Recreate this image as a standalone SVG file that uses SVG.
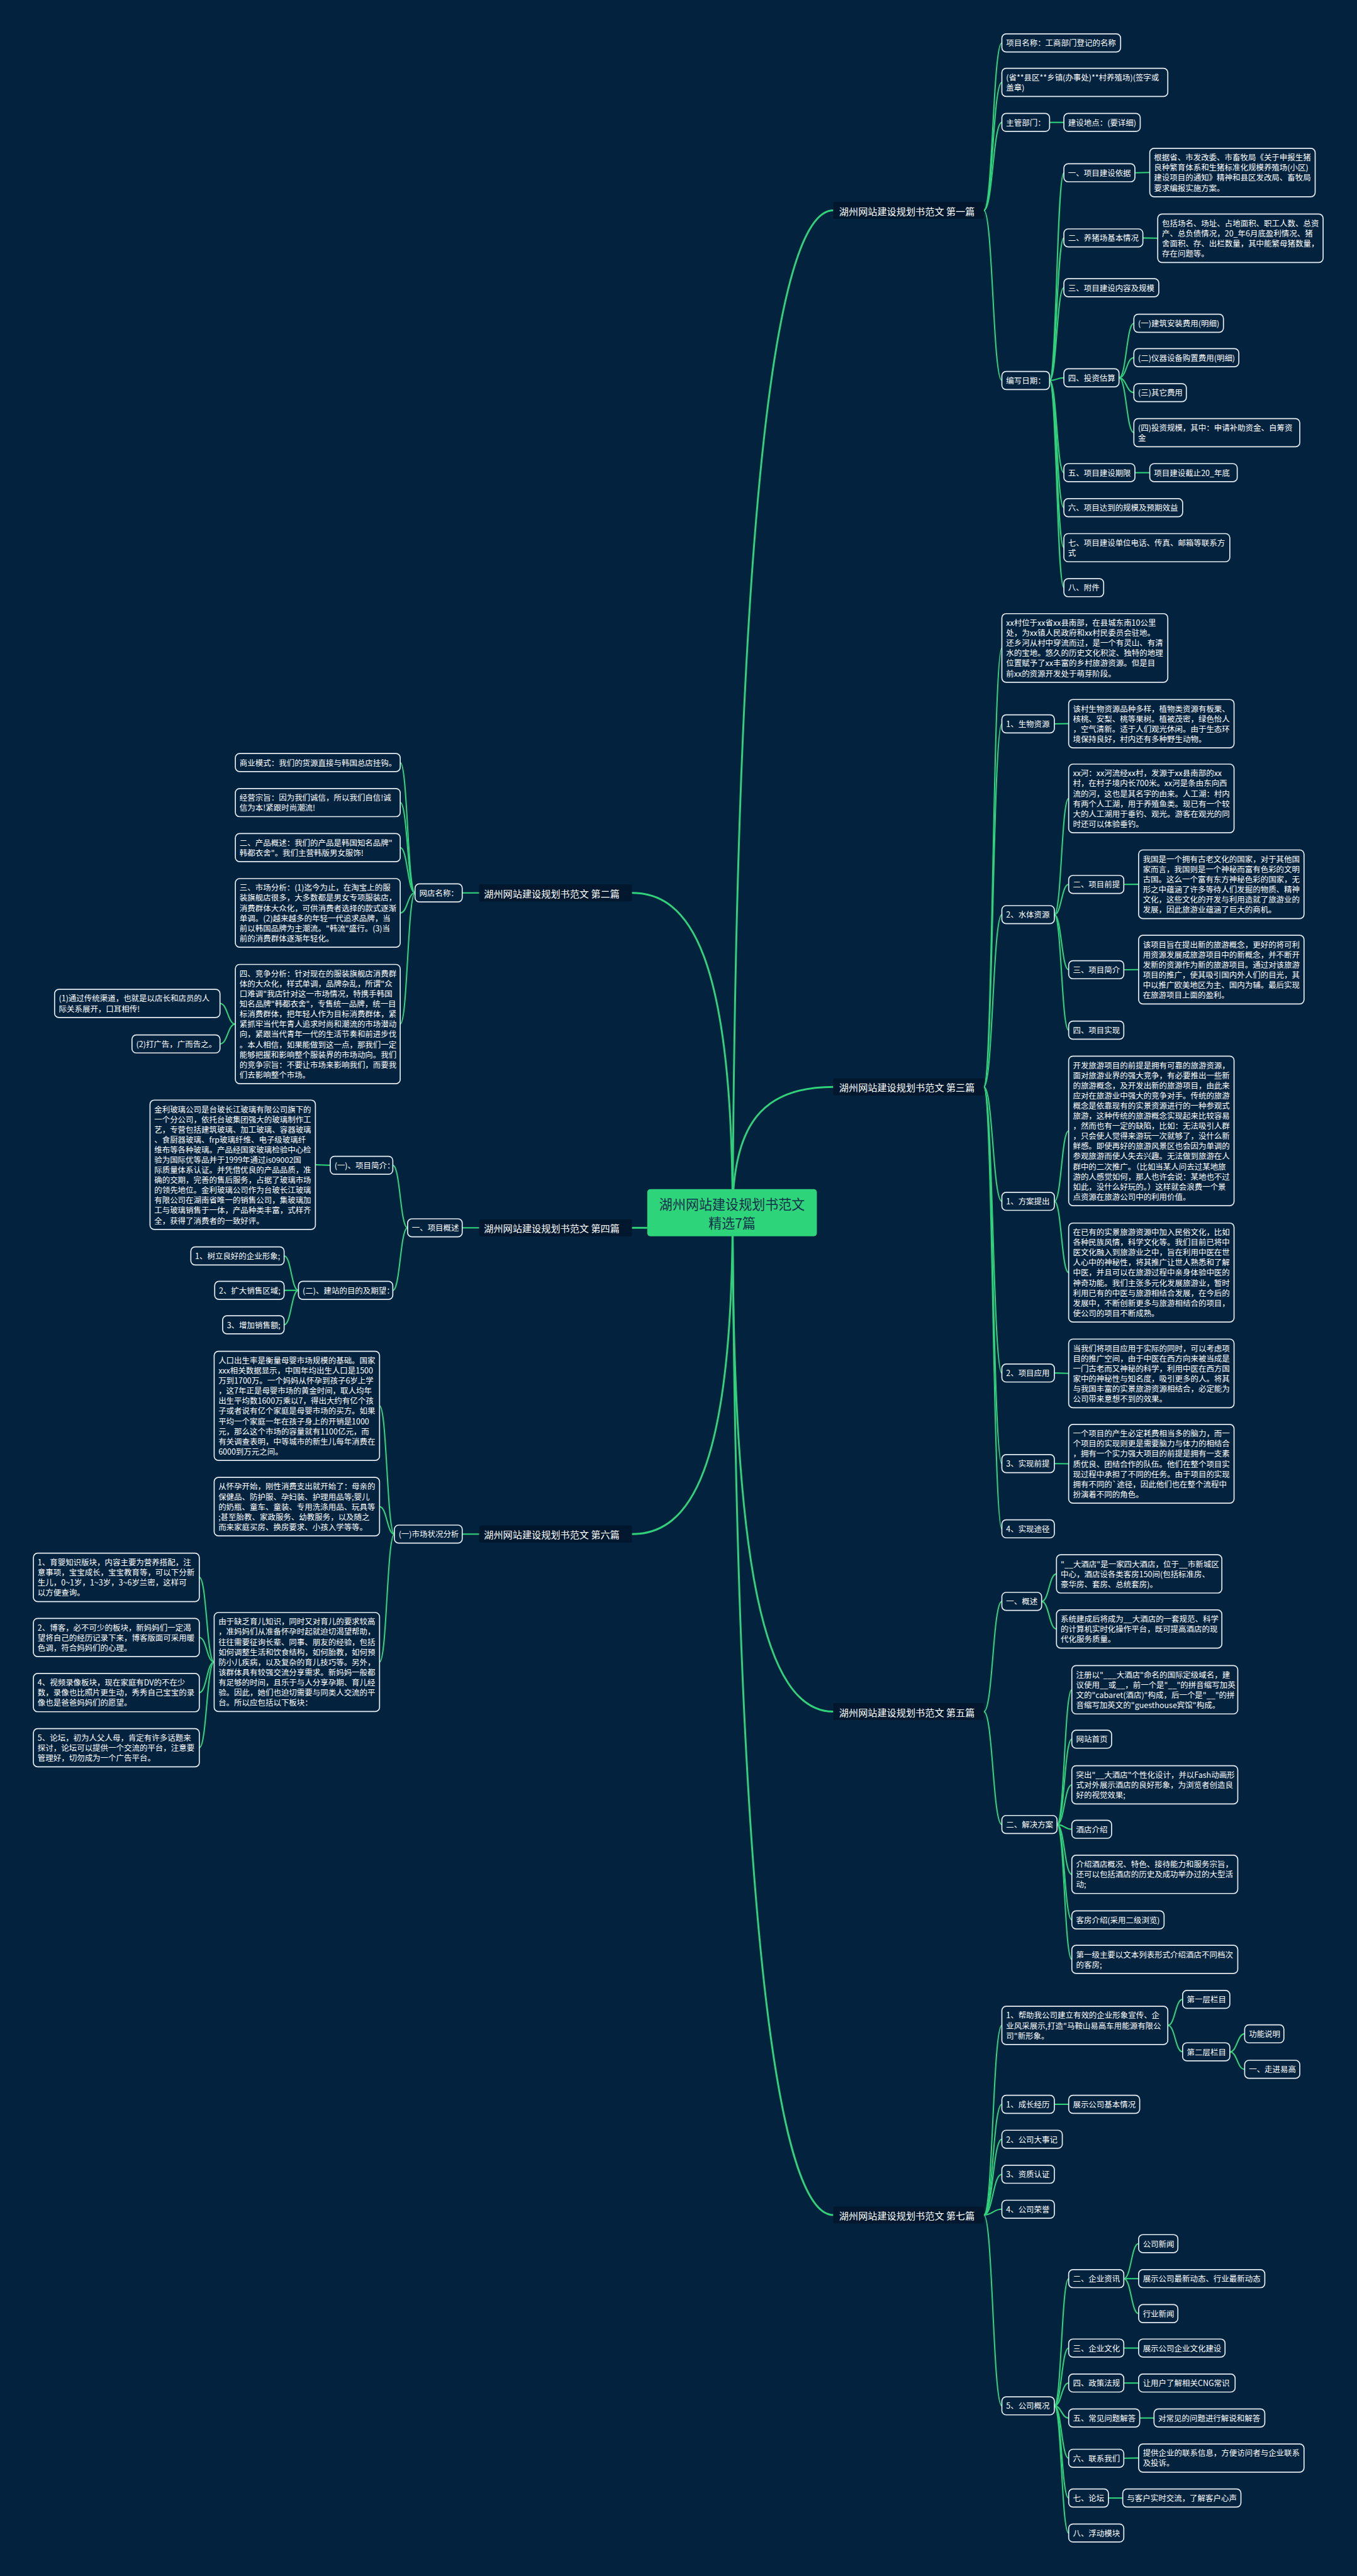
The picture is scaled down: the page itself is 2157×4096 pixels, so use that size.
<svg xmlns="http://www.w3.org/2000/svg" width="2157" height="4096" viewBox="0 0 2157 4096">
<style>
.b{fill:#02223e;stroke:#e6edf2;stroke-width:2}
.t{fill:#ffffff;font-family:"Noto Sans CJK SC","Microsoft YaHei","Noto Sans",sans-serif;font-size:14.8px;dominant-baseline:central}
.bt{fill:#ffffff;font-family:"Noto Sans CJK SC","Microsoft YaHei","Noto Sans",sans-serif;font-size:18px;dominant-baseline:central}
.br{fill:#00172d}
.l{fill:none;stroke:#30d27a;stroke-width:2.5}
.l1{fill:none;stroke:#30d27a;stroke-width:3.5}
</style>
<rect x="0" y="0" width="2157" height="4096" fill="#02223e"/>
<g transform="scale(0.8426)">
<g id="connectors">
<path class="l1" d="M1382,2290 C1390,900 1470,397 1572,397"/>
<path class="l1" d="M1382,2290 C1382,2120 1440,2051 1572,2051"/>
<path class="l1" d="M1382,2290 C1382,2950 1440,3230 1572,3230"/>
<path class="l1" d="M1382,2290 C1390,3650 1470,4180 1572,4180"/>
<path class="l1" d="M1382,2290 C1382,1800 1300,1685 1192,1685"/>
<path class="l1" d="M1382,2290 C1382,2780 1300,2895 1192,2895"/>
<path class="l1" d="M1221,2317 L1192,2317"/>
<path class="l" d="M1856,397 C1873,397 1873,81 1890,81"/>
<path class="l" d="M1856,397 C1873,397 1873,155.5 1890,155.5"/>
<path class="l" d="M1856,397 C1873,397 1873,231 1890,231"/>
<path class="l" d="M1856,397 C1873,397 1873,718 1890,718"/>
<path class="l" d="M1980,231 L2007,231"/>
<path class="l" d="M1980,718 C1993.5,718 1993.5,326 2007,326"/>
<path class="l" d="M1980,718 C1993.5,718 1993.5,449 2007,449"/>
<path class="l" d="M1980,718 C1993.5,718 1993.5,543 2007,543"/>
<path class="l" d="M1980,718 C1993.5,718 1993.5,713 2007,713"/>
<path class="l" d="M1980,718 C1993.5,718 1993.5,892 2007,892"/>
<path class="l" d="M1980,718 C1993.5,718 1993.5,958 2007,958"/>
<path class="l" d="M1980,718 C1993.5,718 1993.5,1033.5 2007,1033.5"/>
<path class="l" d="M1980,718 C1993.5,718 1993.5,1109 2007,1109"/>
<path class="l" d="M2141,326 L2169,325.5"/>
<path class="l" d="M2156,449 L2184,449.5"/>
<path class="l" d="M2141,892 L2169,892"/>
<path class="l" d="M2111,713 C2125,713 2125,610 2139,610"/>
<path class="l" d="M2111,713 C2125,713 2125,675 2139,675"/>
<path class="l" d="M2111,713 C2125,713 2125,741 2139,741"/>
<path class="l" d="M2111,713 C2125,713 2125,816.5 2139,816.5"/>
<path class="l" d="M1856,2051 C1873,2051 1873,1222.75 1890,1222.75"/>
<path class="l" d="M1856,2051 C1873,2051 1873,1366 1890,1366"/>
<path class="l" d="M1856,2051 C1873,2051 1873,1726 1890,1726"/>
<path class="l" d="M1856,2051 C1873,2051 1873,2267 1890,2267"/>
<path class="l" d="M1856,2051 C1873,2051 1873,2591 1890,2591"/>
<path class="l" d="M1856,2051 C1873,2051 1873,2762 1890,2762"/>
<path class="l" d="M1856,2051 C1873,2051 1873,2885 1890,2885"/>
<path class="l" d="M1989,1366 L2016,1365.6"/>
<path class="l" d="M1989,1726 C2002.5,1726 2002.5,1506.75 2016,1506.75"/>
<path class="l" d="M1989,1726 C2002.5,1726 2002.5,1669 2016,1669"/>
<path class="l" d="M1989,1726 C2002.5,1726 2002.5,1830 2016,1830"/>
<path class="l" d="M1989,1726 C2002.5,1726 2002.5,1944 2016,1944"/>
<path class="l" d="M2120,1669 L2148,1668.75"/>
<path class="l" d="M2120,1830 L2148,1829.75"/>
<path class="l" d="M1989,2267 C2002.5,2267 2002.5,2134.15 2016,2134.15"/>
<path class="l" d="M1989,2267 C2002.5,2267 2002.5,2401.4 2016,2401.4"/>
<path class="l" d="M1989,2591 L2016,2591.75"/>
<path class="l" d="M1989,2762 L2016,2762.3"/>
<path class="l" d="M1856,3230 C1873,3230 1873,3022 1890,3022"/>
<path class="l" d="M1856,3230 C1873,3230 1873,3443 1890,3443"/>
<path class="l" d="M1965,3022 C1979,3022 1979,2970.1 1993,2970.1"/>
<path class="l" d="M1965,3022 C1979,3022 1979,3074.1 1993,3074.1"/>
<path class="l" d="M1994,3443 C2008,3443 2008,3188.65 2022,3188.65"/>
<path class="l" d="M1994,3443 C2008,3443 2008,3282 2022,3282"/>
<path class="l" d="M1994,3443 C2008,3443 2008,3368.1 2022,3368.1"/>
<path class="l" d="M1994,3443 C2008,3443 2008,3452 2022,3452"/>
<path class="l" d="M1994,3443 C2008,3443 2008,3537.1 2022,3537.1"/>
<path class="l" d="M1994,3443 C2008,3443 2008,3623 2022,3623"/>
<path class="l" d="M1994,3443 C2008,3443 2008,3697.55 2022,3697.55"/>
<path class="l" d="M1856,4180 C1873,4180 1873,3822.1 1890,3822.1"/>
<path class="l" d="M1856,4180 C1873,4180 1873,3971 1890,3971"/>
<path class="l" d="M1856,4180 C1873,4180 1873,4037 1890,4037"/>
<path class="l" d="M1856,4180 C1873,4180 1873,4103 1890,4103"/>
<path class="l" d="M1856,4180 C1873,4180 1873,4169 1890,4169"/>
<path class="l" d="M1856,4180 C1873,4180 1873,4540 1890,4540"/>
<path class="l" d="M2203,3822.1 C2217,3822.1 2217,3773 2231,3773"/>
<path class="l" d="M2203,3822.1 C2217,3822.1 2217,3872 2231,3872"/>
<path class="l" d="M2320,3872 C2334,3872 2334,3838 2348,3838"/>
<path class="l" d="M2320,3872 C2334,3872 2334,3905 2348,3905"/>
<path class="l" d="M1989,3971 L2016,3971"/>
<path class="l" d="M1989,4540 C2002.5,4540 2002.5,4300 2016,4300"/>
<path class="l" d="M1989,4540 C2002.5,4540 2002.5,4431 2016,4431"/>
<path class="l" d="M1989,4540 C2002.5,4540 2002.5,4497 2016,4497"/>
<path class="l" d="M1989,4540 C2002.5,4540 2002.5,4563 2016,4563"/>
<path class="l" d="M1989,4540 C2002.5,4540 2002.5,4639 2016,4639"/>
<path class="l" d="M1989,4540 C2002.5,4540 2002.5,4714 2016,4714"/>
<path class="l" d="M1989,4540 C2002.5,4540 2002.5,4780 2016,4780"/>
<path class="l" d="M2120,4300 C2134,4300 2134,4234 2148,4234"/>
<path class="l" d="M2120,4300 L2148,4300"/>
<path class="l" d="M2120,4300 C2134,4300 2134,4366 2148,4366"/>
<path class="l" d="M2120,4431 L2148,4431"/>
<path class="l" d="M2120,4497 L2148,4497"/>
<path class="l" d="M2150,4563 L2177,4563"/>
<path class="l" d="M2120,4639 L2148,4638.5"/>
<path class="l" d="M2091,4714 L2118,4714"/>
<path class="l" d="M904,1685 L872,1685"/>
<path class="l" d="M783,1685 C769,1685 769,1439 755,1439"/>
<path class="l" d="M783,1685 C769,1685 769,1514.55 755,1514.55"/>
<path class="l" d="M783,1685 C769,1685 769,1599.55 755,1599.55"/>
<path class="l" d="M783,1685 C769,1685 769,1722.75 755,1722.75"/>
<path class="l" d="M783,1685 C769,1685 769,1932.5 755,1932.5"/>
<path class="l" d="M444,1932.5 C429.5,1932.5 429.5,1893.55 415,1893.55"/>
<path class="l" d="M444,1932.5 C429.5,1932.5 429.5,1970 415,1970"/>
<path class="l" d="M904,2317 L872,2317"/>
<path class="l" d="M769,2317 C755,2317 755,2199 741,2199"/>
<path class="l" d="M769,2317 C755,2317 755,2435 741,2435"/>
<path class="l" d="M623,2199 L595,2198"/>
<path class="l" d="M563,2435 C549.5,2435 549.5,2370 536,2370"/>
<path class="l" d="M563,2435 L536,2435"/>
<path class="l" d="M563,2435 C549.5,2435 549.5,2500 536,2500"/>
<path class="l" d="M904,2895 L872,2895"/>
<path class="l" d="M744,2895 C730,2895 730,2652.95 716,2652.95"/>
<path class="l" d="M744,2895 C730,2895 730,2843.2 716,2843.2"/>
<path class="l" d="M744,2895 C730,2895 730,3136.4 716,3136.4"/>
<path class="l" d="M404,3136.4 C390,3136.4 390,2976.65 376,2976.65"/>
<path class="l" d="M404,3136.4 C390,3136.4 390,3090.1 376,3090.1"/>
<path class="l" d="M404,3136.4 C390,3136.4 390,3194.1 376,3194.1"/>
<path class="l" d="M404,3136.4 C390,3136.4 390,3298.1 376,3298.1"/>
</g>

<g id="root">
<rect x="1221" y="2244" width="320" height="89" rx="6" fill="#2ed47a"/>
<text x="1381" y="2272" text-anchor="middle" style="font-family:'Noto Sans CJK SC','Microsoft YaHei',sans-serif;font-size:25px;fill:#10304a;dominant-baseline:central">湖州网站建设规划书范文</text>
<text x="1381" y="2307" text-anchor="middle" style="font-family:'Noto Sans CJK SC','Microsoft YaHei',sans-serif;font-size:25px;fill:#10304a;dominant-baseline:central">精选7篇</text>
</g>

<g id="branch1"><rect class="br" x="1572" y="381" width="284" height="32" rx="3"/><text class="bt" x="1583" y="397">湖州网站建设规划书范文 第一篇</text></g>
<g id="branch2"><rect class="br" x="904" y="1669" width="288" height="32" rx="3"/><text class="bt" x="913" y="1685">湖州网站建设规划书范文 第二篇</text></g>
<g id="branch3"><rect class="br" x="1572" y="2035" width="284" height="32" rx="3"/><text class="bt" x="1583" y="2051">湖州网站建设规划书范文 第三篇</text></g>
<g id="branch4"><rect class="br" x="904" y="2301" width="288" height="32" rx="3"/><text class="bt" x="913" y="2317">湖州网站建设规划书范文 第四篇</text></g>
<g id="branch5"><rect class="br" x="1572" y="3214" width="284" height="32" rx="3"/><text class="bt" x="1583" y="3230">湖州网站建设规划书范文 第五篇</text></g>
<g id="branch6"><rect class="br" x="904" y="2879" width="288" height="32" rx="3"/><text class="bt" x="913" y="2895">湖州网站建设规划书范文 第六篇</text></g>
<g id="branch7"><rect class="br" x="1572" y="4164" width="284" height="32" rx="3"/><text class="bt" x="1583" y="4180">湖州网站建设规划书范文 第七篇</text></g>

<!-- branch 1 -->
<g id="n1_1"><rect class="b" x="1890" y="64" width="224" height="34" rx="8"/><text class="t" x="1898" y="81">项目名称：工商部门登记的名称</text></g>
<g id="n1_2"><rect class="b" x="1890" y="129" width="313" height="53.1" rx="8"/><text class="t" x="1898" y="146"><tspan x="1898">(省**县区**乡镇(办事处)**村养殖场)(签字或</tspan><tspan x="1898" dy="19.1">盖章)</tspan></text></g>
<g id="n1_3"><rect class="b" x="1890" y="214" width="90" height="34" rx="8"/><text class="t" x="1898" y="231">主管部门：</text></g>
<g id="n1_3a"><rect class="b" x="2007" y="214" width="144" height="34" rx="8"/><text class="t" x="2015" y="231">建设地点：(要详细)</text></g>
<g id="n1_4"><rect class="b" x="1890" y="701" width="90" height="34" rx="8"/><text class="t" x="1898" y="718">编写日期：</text></g>
<g id="n1_4_1"><rect class="b" x="2007" y="309" width="134" height="34" rx="8"/><text class="t" x="2015" y="326">一、项目建设依据</text></g>
<g id="n1_4_1a"><rect class="b" x="2169" y="280" width="312" height="91.3" rx="8"/><text class="t" x="2177" y="297"><tspan x="2177">根据省、市发改委、市畜牧局《关于申报生猪</tspan><tspan x="2177" dy="19.1">良种繁育体系和生猪标准化规模养殖场(小区)</tspan><tspan x="2177" dy="19.1">建设项目的通知》精神和县区发改局、畜牧局</tspan><tspan x="2177" dy="19.1">要求编报实施方案。</tspan></text></g>
<g id="n1_4_2"><rect class="b" x="2007" y="432" width="149" height="34" rx="8"/><text class="t" x="2015" y="449">二、养猪场基本情况</text></g>
<g id="n1_4_2a"><rect class="b" x="2184" y="404" width="312" height="91.3" rx="8"/><text class="t" x="2192" y="421"><tspan x="2192">包括场名、场址、占地面积、职工人数、总资</tspan><tspan x="2192" dy="19.1">产、总负债情况，20_年6月底盈利情况、猪</tspan><tspan x="2192" dy="19.1">舍面积、存、出栏数量，其中能繁母猪数量，</tspan><tspan x="2192" dy="19.1">存在问题等。</tspan></text></g>
<g id="n1_4_3"><rect class="b" x="2007" y="526" width="179" height="34" rx="8"/><text class="t" x="2015" y="543">三、项目建设内容及规模</text></g>
<g id="n1_4_4"><rect class="b" x="2007" y="696" width="104" height="34" rx="8"/><text class="t" x="2015" y="713">四、投资估算</text></g>
<g id="n1_4_4a"><rect class="b" x="2139" y="593" width="169" height="34" rx="8"/><text class="t" x="2147" y="610">(一)建筑安装费用(明细)</text></g>
<g id="n1_4_4b"><rect class="b" x="2139" y="658" width="198" height="34" rx="8"/><text class="t" x="2147" y="675">(二)仪器设备购置费用(明细)</text></g>
<g id="n1_4_4c"><rect class="b" x="2139" y="724" width="99" height="34" rx="8"/><text class="t" x="2147" y="741">(三)其它费用</text></g>
<g id="n1_4_4d"><rect class="b" x="2139" y="790" width="313" height="53.1" rx="8"/><text class="t" x="2147" y="807"><tspan x="2147">(四)投资规模，其中：申请补助资金、自筹资</tspan><tspan x="2147" dy="19.1">金</tspan></text></g>
<g id="n1_4_5"><rect class="b" x="2007" y="875" width="134" height="34" rx="8"/><text class="t" x="2015" y="892">五、项目建设期限</text></g>
<g id="n1_4_5a"><rect class="b" x="2169" y="875" width="165" height="34" rx="8"/><text class="t" x="2177" y="892">项目建设截止20_年底</text></g>
<g id="n1_4_6"><rect class="b" x="2007" y="941" width="224" height="34" rx="8"/><text class="t" x="2015" y="958">六、项目达到的规模及预期效益</text></g>
<g id="n1_4_7"><rect class="b" x="2007" y="1007" width="313" height="53.1" rx="8"/><text class="t" x="2015" y="1024"><tspan x="2015">七、项目建设单位电话、传真、邮箱等联系方</tspan><tspan x="2015" dy="19.1">式</tspan></text></g>
<g id="n1_4_8"><rect class="b" x="2007" y="1092" width="75" height="34" rx="8"/><text class="t" x="2015" y="1109">八、附件</text></g>

<!-- branch 3 -->
<g id="n3_1"><rect class="b" x="1890" y="1158" width="313" height="129.5" rx="8"/><text class="t" x="1898" y="1175"><tspan x="1898">xx村位于xx省xx县南部，在县城东南10公里</tspan><tspan x="1898" dy="19.1">处，为xx镇人民政府和xx村民委员会驻地。</tspan><tspan x="1898" dy="19.1">还乡河从村中穿流而过，是一个有灵山、有清</tspan><tspan x="1898" dy="19.1">水的宝地。悠久的历史文化积淀、独特的地理</tspan><tspan x="1898" dy="19.1">位置赋予了xx丰富的乡村旅游资源。但是目</tspan><tspan x="1898" dy="19.1">前xx的资源开发处于萌芽阶段。</tspan></text></g>
<g id="n3_2"><rect class="b" x="1890" y="1349" width="99" height="34" rx="8"/><text class="t" x="1898" y="1366">1、生物资源</text></g>
<g id="n3_2a"><rect class="b" x="2016" y="1320" width="312" height="91.3" rx="8"/><text class="t" x="2024" y="1337"><tspan x="2024">该村生物资源品种多样，植物类资源有板栗、</tspan><tspan x="2024" dy="19.1">核桃、安梨、桃等果树。植被茂密，绿色怡人</tspan><tspan x="2024" dy="19.1">，空气清新。适于人们观光休闲。由于生态环</tspan><tspan x="2024" dy="19.1">境保持良好，村内还有多种野生动物。</tspan></text></g>
<g id="n3_3"><rect class="b" x="1890" y="1709" width="99" height="34" rx="8"/><text class="t" x="1898" y="1726">2、水体资源</text></g>
<g id="n3_3a"><rect class="b" x="2016" y="1442" width="312" height="129.5" rx="8"/><text class="t" x="2024" y="1459"><tspan x="2024">xx河：xx河流经xx村，发源于xx县南部的xx</tspan><tspan x="2024" dy="19.1">村，在村子境内长700米。xx河是条由东向西</tspan><tspan x="2024" dy="19.1">流的河，这也是其名字的由来。人工湖：村内</tspan><tspan x="2024" dy="19.1">有两个人工湖，用于养殖鱼类。现已有一个较</tspan><tspan x="2024" dy="19.1">大的人工湖用于垂钓、观光。游客在观光的同</tspan><tspan x="2024" dy="19.1">时还可以体验垂钓。</tspan></text></g>
<g id="n3_3b"><rect class="b" x="2016" y="1652" width="104" height="34" rx="8"/><text class="t" x="2024" y="1669">二、项目前提</text></g>
<g id="n3_3b1"><rect class="b" x="2148" y="1604" width="312" height="129.5" rx="8"/><text class="t" x="2156" y="1621"><tspan x="2156">我国是一个拥有古老文化的国家，对于其他国</tspan><tspan x="2156" dy="19.1">家而言，我国则是一个神秘而富有色彩的文明</tspan><tspan x="2156" dy="19.1">古国。这么一个富有东方神秘色彩的国家，无</tspan><tspan x="2156" dy="19.1">形之中蕴涵了许多等待人们发掘的物质、精神</tspan><tspan x="2156" dy="19.1">文化，这些文化的开发与利用造就了旅游业的</tspan><tspan x="2156" dy="19.1">发展，因此旅游业蕴涵了巨大的商机。</tspan></text></g>
<g id="n3_3c"><rect class="b" x="2016" y="1813" width="104" height="34" rx="8"/><text class="t" x="2024" y="1830">三、项目简介</text></g>
<g id="n3_3c1"><rect class="b" x="2148" y="1765" width="312" height="129.5" rx="8"/><text class="t" x="2156" y="1782"><tspan x="2156">该项目旨在提出新的旅游概念，更好的将可利</tspan><tspan x="2156" dy="19.1">用资源发展成旅游项目中的新概念，并不断开</tspan><tspan x="2156" dy="19.1">发新的资源作为新的旅游项目。通过对该旅游</tspan><tspan x="2156" dy="19.1">项目的推广，使其吸引国内外人们的目光，其</tspan><tspan x="2156" dy="19.1">中以推广欧美地区为主、国内为辅。最后实现</tspan><tspan x="2156" dy="19.1">在旅游项目上面的盈利。</tspan></text></g>
<g id="n3_3d"><rect class="b" x="2016" y="1927" width="104" height="34" rx="8"/><text class="t" x="2024" y="1944">四、项目实现</text></g>
<g id="n3_4"><rect class="b" x="1890" y="2250" width="99" height="34" rx="8"/><text class="t" x="1898" y="2267">1、方案提出</text></g>
<g id="n3_4a"><rect class="b" x="2016" y="1993" width="312" height="282.3" rx="8"/><text class="t" x="2024" y="2010"><tspan x="2024">开发旅游项目的前提是拥有可靠的旅游资源，</tspan><tspan x="2024" dy="19.1">面对旅游业界的强大竞争，有必要推出一些新</tspan><tspan x="2024" dy="19.1">的旅游概念，及开发出新的旅游项目，由此来</tspan><tspan x="2024" dy="19.1">应对在旅游业中强大的竞争对手。传统的旅游</tspan><tspan x="2024" dy="19.1">概念是依靠现有的实景资源进行的一种参观式</tspan><tspan x="2024" dy="19.1">旅游，这种传统的旅游概念实现起来比较容易</tspan><tspan x="2024" dy="19.1">，然而也有一定的缺陷，比如：无法吸引人群</tspan><tspan x="2024" dy="19.1">，只会使人觉得来游玩一次就够了，没什么新</tspan><tspan x="2024" dy="19.1">鲜感。即使再好的旅游风景区也会因为单调的</tspan><tspan x="2024" dy="19.1">参观旅游而使人失去兴趣。无法做到旅游在人</tspan><tspan x="2024" dy="19.1">群中的二次推广。（比如当某人问去过某地旅</tspan><tspan x="2024" dy="19.1">游的人感觉如何，那人也许会说：某地也不过</tspan><tspan x="2024" dy="19.1">如此，没什么好玩的。）这样就会浪费一个景</tspan><tspan x="2024" dy="19.1">点资源在旅游公司中的利用价值。</tspan></text></g>
<g id="n3_4b"><rect class="b" x="2016" y="2308" width="312" height="186.8" rx="8"/><text class="t" x="2024" y="2325"><tspan x="2024">在已有的实景旅游资源中加入民俗文化，比如</tspan><tspan x="2024" dy="19.1">各种民族风情，科学文化等。我们目前已将中</tspan><tspan x="2024" dy="19.1">医文化融入到旅游业之中，旨在利用中医在世</tspan><tspan x="2024" dy="19.1">人心中的神秘性，将其推广让世人熟悉和了解</tspan><tspan x="2024" dy="19.1">中医，并且可以在旅游过程中亲身体验中医的</tspan><tspan x="2024" dy="19.1">神奇功能。我们主张多元化发展旅游业，暂时</tspan><tspan x="2024" dy="19.1">利用已有的中医与旅游相结合发展，在今后的</tspan><tspan x="2024" dy="19.1">发展中，不断创新更多与旅游相结合的项目，</tspan><tspan x="2024" dy="19.1">使公司的项目不断成熟。</tspan></text></g>
<g id="n3_5"><rect class="b" x="1890" y="2574" width="99" height="34" rx="8"/><text class="t" x="1898" y="2591">2、项目应用</text></g>
<g id="n3_5a"><rect class="b" x="2016" y="2527" width="312" height="129.5" rx="8"/><text class="t" x="2024" y="2544"><tspan x="2024">当我们将项目应用于实际的同时，可以考虑项</tspan><tspan x="2024" dy="19.1">目的推广空间，由于中医在西方向来被当成是</tspan><tspan x="2024" dy="19.1">一门古老而又神秘的科学，利用中医在西方国</tspan><tspan x="2024" dy="19.1">家中的神秘性与知名度，吸引更多的人。将其</tspan><tspan x="2024" dy="19.1">与我国丰富的实景旅游资源相结合，必定能为</tspan><tspan x="2024" dy="19.1">公司带来意想不到的效果。</tspan></text></g>
<g id="n3_6"><rect class="b" x="1890" y="2745" width="99" height="34" rx="8"/><text class="t" x="1898" y="2762">3、实现前提</text></g>
<g id="n3_6a"><rect class="b" x="2016" y="2688" width="312" height="148.6" rx="8"/><text class="t" x="2024" y="2705"><tspan x="2024">一个项目的产生必定耗费相当多的脑力，而一</tspan><tspan x="2024" dy="19.1">个项目的实现则更是需要脑力与体力的相结合</tspan><tspan x="2024" dy="19.1">，拥有一个实力强大项目的前提是拥有一支素</tspan><tspan x="2024" dy="19.1">质优良、团结合作的队伍。他们在整个项目实</tspan><tspan x="2024" dy="19.1">现过程中承担了不同的任务。由于项目的实现</tspan><tspan x="2024" dy="19.1">拥有不同的`途径，因此他们也在整个流程中</tspan><tspan x="2024" dy="19.1">扮演着不同的角色。</tspan></text></g>
<g id="n3_7"><rect class="b" x="1890" y="2868" width="99" height="34" rx="8"/><text class="t" x="1898" y="2885">4、实现途径</text></g>

<!-- branch 5 -->
<g id="n5_1"><rect class="b" x="1890" y="3005" width="75" height="34" rx="8"/><text class="t" x="1898" y="3022">一、概述</text></g>
<g id="n5_1a"><rect class="b" x="1993" y="2934" width="312" height="72.2" rx="8"/><text class="t" x="2001" y="2951"><tspan x="2001">"__大酒店"是一家四大酒店，位于__市新城区</tspan><tspan x="2001" dy="19.1">中心，酒店设各类客房150间(包括标准房、</tspan><tspan x="2001" dy="19.1">豪华房、套房、总统套房)。</tspan></text></g>
<g id="n5_1b"><rect class="b" x="1993" y="3038" width="312" height="72.2" rx="8"/><text class="t" x="2001" y="3055"><tspan x="2001">系统建成后将成为__大酒店的一套规范、科学</tspan><tspan x="2001" dy="19.1">的计算机实时化操作平台，既可提高酒店的现</tspan><tspan x="2001" dy="19.1">代化服务质量。</tspan></text></g>
<g id="n5_2"><rect class="b" x="1890" y="3426" width="104" height="34" rx="8"/><text class="t" x="1898" y="3443">二、解决方案</text></g>
<g id="n5_2a"><rect class="b" x="2022" y="3143" width="313" height="91.3" rx="8"/><text class="t" x="2030" y="3160"><tspan x="2030">注册以"___大酒店"命名的国际定级域名，建</tspan><tspan x="2030" dy="19.1">议使用__或__，前一个是"__"的拼音缩写加英</tspan><tspan x="2030" dy="19.1">文的"cabaret(酒店)"构成，后一个是"__"的拼</tspan><tspan x="2030" dy="19.1">音缩写加英文的"guesthouse宾馆"构成。</tspan></text></g>
<g id="n5_2b"><rect class="b" x="2022" y="3265" width="75" height="34" rx="8"/><text class="t" x="2030" y="3282">网站首页</text></g>
<g id="n5_2c"><rect class="b" x="2022" y="3332" width="313" height="72.2" rx="8"/><text class="t" x="2030" y="3349"><tspan x="2030">突出"__大酒店"个性化设计，并以Fash动画形</tspan><tspan x="2030" dy="19.1">式对外展示酒店的良好形象，为浏览者创造良</tspan><tspan x="2030" dy="19.1">好的视觉效果;</tspan></text></g>
<g id="n5_2d"><rect class="b" x="2022" y="3435" width="75" height="34" rx="8"/><text class="t" x="2030" y="3452">酒店介绍</text></g>
<g id="n5_2e"><rect class="b" x="2022" y="3501" width="313" height="72.2" rx="8"/><text class="t" x="2030" y="3518"><tspan x="2030">介绍酒店概况、特色、接待能力和服务宗旨，</tspan><tspan x="2030" dy="19.1">还可以包括酒店的历史及成功举办过的大型活</tspan><tspan x="2030" dy="19.1">动;</tspan></text></g>
<g id="n5_2f"><rect class="b" x="2022" y="3606" width="174" height="34" rx="8"/><text class="t" x="2030" y="3623">客房介绍(采用二级浏览)</text></g>
<g id="n5_2g"><rect class="b" x="2022" y="3671" width="313" height="53.1" rx="8"/><text class="t" x="2030" y="3688"><tspan x="2030">第一级主要以文本列表形式介绍酒店不同档次</tspan><tspan x="2030" dy="19.1">的客房;</tspan></text></g>

<!-- branch 7 -->
<g id="n7_1"><rect class="b" x="1890" y="3786" width="313" height="72.2" rx="8"/><text class="t" x="1898" y="3803"><tspan x="1898">1、帮助我公司建立有效的企业形象宣传、企</tspan><tspan x="1898" dy="19.1">业风采展示,打造"马鞍山易高车用能源有限公</tspan><tspan x="1898" dy="19.1">司"新形象。</tspan></text></g>
<g id="n7_1a"><rect class="b" x="2231" y="3756" width="89" height="34" rx="8"/><text class="t" x="2239" y="3773">第一层栏目</text></g>
<g id="n7_1b"><rect class="b" x="2231" y="3855" width="89" height="34" rx="8"/><text class="t" x="2239" y="3872">第二层栏目</text></g>
<g id="n7_1b1"><rect class="b" x="2348" y="3821" width="74" height="34" rx="8"/><text class="t" x="2356" y="3838">功能说明</text></g>
<g id="n7_1b2"><rect class="b" x="2348" y="3888" width="104" height="34" rx="8"/><text class="t" x="2356" y="3905">一、走进易高</text></g>
<g id="n7_2"><rect class="b" x="1890" y="3954" width="99" height="34" rx="8"/><text class="t" x="1898" y="3971">1、成长经历</text></g>
<g id="n7_2a"><rect class="b" x="2016" y="3954" width="134" height="34" rx="8"/><text class="t" x="2024" y="3971">展示公司基本情况</text></g>
<g id="n7_3"><rect class="b" x="1890" y="4020" width="114" height="34" rx="8"/><text class="t" x="1898" y="4037">2、公司大事记</text></g>
<g id="n7_4"><rect class="b" x="1890" y="4086" width="99" height="34" rx="8"/><text class="t" x="1898" y="4103">3、资质认证</text></g>
<g id="n7_5"><rect class="b" x="1890" y="4152" width="99" height="34" rx="8"/><text class="t" x="1898" y="4169">4、公司荣誉</text></g>
<g id="n7_6"><rect class="b" x="1890" y="4523" width="99" height="34" rx="8"/><text class="t" x="1898" y="4540">5、公司概况</text></g>
<g id="n7_6a"><rect class="b" x="2016" y="4283" width="104" height="34" rx="8"/><text class="t" x="2024" y="4300">二、企业资讯</text></g>
<g id="n7_6a1"><rect class="b" x="2148" y="4217" width="74" height="34" rx="8"/><text class="t" x="2156" y="4234">公司新闻</text></g>
<g id="n7_6a2"><rect class="b" x="2148" y="4283" width="238" height="34" rx="8"/><text class="t" x="2156" y="4300">展示公司最新动态、行业最新动态</text></g>
<g id="n7_6a3"><rect class="b" x="2148" y="4349" width="74" height="34" rx="8"/><text class="t" x="2156" y="4366">行业新闻</text></g>
<g id="n7_6b"><rect class="b" x="2016" y="4414" width="104" height="34" rx="8"/><text class="t" x="2024" y="4431">三、企业文化</text></g>
<g id="n7_6b1"><rect class="b" x="2148" y="4414" width="163" height="34" rx="8"/><text class="t" x="2156" y="4431">展示公司企业文化建设</text></g>
<g id="n7_6c"><rect class="b" x="2016" y="4480" width="104" height="34" rx="8"/><text class="t" x="2024" y="4497">四、政策法规</text></g>
<g id="n7_6c1"><rect class="b" x="2148" y="4480" width="182" height="34" rx="8"/><text class="t" x="2156" y="4497">让用户了解相关CNG常识</text></g>
<g id="n7_6d"><rect class="b" x="2016" y="4546" width="134" height="34" rx="8"/><text class="t" x="2024" y="4563">五、常见问题解答</text></g>
<g id="n7_6d1"><rect class="b" x="2177" y="4546" width="209" height="34" rx="8"/><text class="t" x="2185" y="4563">对常见的问题进行解说和解答</text></g>
<g id="n7_6e"><rect class="b" x="2016" y="4622" width="104" height="34" rx="8"/><text class="t" x="2024" y="4639">六、联系我们</text></g>
<g id="n7_6e1"><rect class="b" x="2148" y="4612" width="312" height="53.1" rx="8"/><text class="t" x="2156" y="4629"><tspan x="2156">提供企业的联系信息，方便访问者与企业联系</tspan><tspan x="2156" dy="19.1">及投诉。</tspan></text></g>
<g id="n7_6f"><rect class="b" x="2016" y="4697" width="75" height="34" rx="8"/><text class="t" x="2024" y="4714">七、论坛</text></g>
<g id="n7_6f1"><rect class="b" x="2118" y="4697" width="223" height="34" rx="8"/><text class="t" x="2126" y="4714">与客户实时交流，了解客户心声</text></g>
<g id="n7_6g"><rect class="b" x="2016" y="4763" width="104" height="34" rx="8"/><text class="t" x="2024" y="4780">八、浮动模块</text></g>

<!-- branch 2 -->
<g id="n2_1"><rect class="b" x="783" y="1668" width="89" height="34" rx="8"/><text class="t" x="791" y="1685">网店名称：</text></g>
<g id="n2_1a"><rect class="b" x="444" y="1422" width="311" height="34" rx="8"/><text class="t" x="452" y="1439">商业模式：我们的货源直接与韩国总店挂钩。</text></g>
<g id="n2_1b"><rect class="b" x="444" y="1488" width="311" height="53.1" rx="8"/><text class="t" x="452" y="1505"><tspan x="452">经营宗旨：因为我们诚信，所以我们自信!诚</tspan><tspan x="452" dy="19.1">信为本!紧跟时尚潮流!</tspan></text></g>
<g id="n2_1c"><rect class="b" x="444" y="1573" width="311" height="53.1" rx="8"/><text class="t" x="452" y="1590"><tspan x="452">二、产品概述：我们的产品是韩国知名品牌"</tspan><tspan x="452" dy="19.1">韩都衣舍"。我们主营韩版男女服饰!</tspan></text></g>
<g id="n2_1d"><rect class="b" x="444" y="1658" width="311" height="129.5" rx="8"/><text class="t" x="452" y="1675"><tspan x="452">三、市场分析：(1)迄今为止，在淘宝上的服</tspan><tspan x="452" dy="19.1">装旗舰店很多，大多数都是男女专项服装店，</tspan><tspan x="452" dy="19.1">消费群体大众化，可供消费者选择的款式逐渐</tspan><tspan x="452" dy="19.1">单调。(2)越来越多的年轻一代追求品牌，当</tspan><tspan x="452" dy="19.1">前以韩国品牌为主潮流。"韩流"盛行。(3)当</tspan><tspan x="452" dy="19.1">前的消费群体逐渐年轻化。</tspan></text></g>
<g id="n2_1e"><rect class="b" x="444" y="1820" width="311" height="225" rx="8"/><text class="t" x="452" y="1837"><tspan x="452">四、竞争分析：针对现在的服装旗舰店消费群</tspan><tspan x="452" dy="19.1">体的大众化，样式单调，品牌杂乱，所谓"众</tspan><tspan x="452" dy="19.1">口难调"我店针对这一市场情况，特携手韩国</tspan><tspan x="452" dy="19.1">知名品牌"韩都衣舍"，专售统一品牌，统一目</tspan><tspan x="452" dy="19.1">标消费群体，把年轻人作为目标消费群体，紧</tspan><tspan x="452" dy="19.1">紧抓牢当代年青人追求时尚和潮流的市场潜动</tspan><tspan x="452" dy="19.1">向，紧跟当代青年一代的生活节奏和前进步伐</tspan><tspan x="452" dy="19.1">。本人相信，如果能做到这一点，那我们一定</tspan><tspan x="452" dy="19.1">能够把握和影响整个服装界的市场动向。我们</tspan><tspan x="452" dy="19.1">的竞争宗旨：不要让市场来影响我们，而要我</tspan><tspan x="452" dy="19.1">们去影响整个市场。</tspan></text></g>
<g id="n2_1e1"><rect class="b" x="103" y="1867" width="312" height="53.1" rx="8"/><text class="t" x="111" y="1884"><tspan x="111">(1)通过传统渠道，也就是以店长和店员的人</tspan><tspan x="111" dy="19.1">际关系展开，口耳相传!</tspan></text></g>
<g id="n2_1e2"><rect class="b" x="249" y="1953" width="166" height="34" rx="8"/><text class="t" x="257" y="1970">(2)打广告，广而告之。</text></g>

<!-- branch 4 -->
<g id="n4_1"><rect class="b" x="769" y="2300" width="103" height="34" rx="8"/><text class="t" x="777" y="2317">一、项目概述</text></g>
<g id="n4_1a"><rect class="b" x="623" y="2182" width="118" height="34" rx="8"/><text class="t" x="631" y="2199">(一)、项目简介：</text></g>
<g id="n4_1a1"><rect class="b" x="283" y="2076" width="312" height="244.1" rx="8"/><text class="t" x="291" y="2093"><tspan x="291">金利玻璃公司是台玻长江玻璃有限公司旗下的</tspan><tspan x="291" dy="19.1">一个分公司，依托台玻集团强大的玻璃制作工</tspan><tspan x="291" dy="19.1">艺，专营包括建筑玻璃、加工玻璃、容器玻璃</tspan><tspan x="291" dy="19.1">、食厨器玻璃、frp玻璃纤维、电子级玻璃纤</tspan><tspan x="291" dy="19.1">维布等各种玻璃。产品经国家玻璃检验中心检</tspan><tspan x="291" dy="19.1">验为国际优等品并于1999年通过is09002国</tspan><tspan x="291" dy="19.1">际质量体系认证。并凭借优良的产品品质，准</tspan><tspan x="291" dy="19.1">确的交期，完善的售后服务，占据了玻璃市场</tspan><tspan x="291" dy="19.1">的领先地位。金利玻璃公司作为台玻长江玻璃</tspan><tspan x="291" dy="19.1">有限公司在湖南省唯一的销售公司，集玻璃加</tspan><tspan x="291" dy="19.1">工与玻璃销售于一体，产品种类丰富，式样齐</tspan><tspan x="291" dy="19.1">全，获得了消费者的一致好评。</tspan></text></g>
<g id="n4_1b"><rect class="b" x="563" y="2418" width="178" height="34" rx="8"/><text class="t" x="571" y="2435">(二)、建站的目的及期望：</text></g>
<g id="n4_1b1"><rect class="b" x="360" y="2353" width="176" height="34" rx="8"/><text class="t" x="368" y="2370">1、树立良好的企业形象;</text></g>
<g id="n4_1b2"><rect class="b" x="405" y="2418" width="131" height="34" rx="8"/><text class="t" x="413" y="2435">2、扩大销售区域;</text></g>
<g id="n4_1b3"><rect class="b" x="420" y="2483" width="116" height="34" rx="8"/><text class="t" x="428" y="2500">3、增加销售额;</text></g>

<!-- branch 6 -->
<g id="n6_1"><rect class="b" x="744" y="2878" width="128" height="34" rx="8"/><text class="t" x="752" y="2895">(一)市场状况分析</text></g>
<g id="n6_1a"><rect class="b" x="404" y="2550" width="312" height="205.9" rx="8"/><text class="t" x="412" y="2567"><tspan x="412">人口出生率是衡量母婴市场规模的基础。国家</tspan><tspan x="412" dy="19.1">xxx相关数据显示，中国年均出生人口是1500</tspan><tspan x="412" dy="19.1">万到1700万。一个妈妈从怀孕到孩子6岁上学</tspan><tspan x="412" dy="19.1">，这7年正是母婴市场的黄金时间，取人均年</tspan><tspan x="412" dy="19.1">出生平均数1600万乘以7，得出大约有亿个孩</tspan><tspan x="412" dy="19.1">子或者说有亿个家庭是母婴市场的买方。如果</tspan><tspan x="412" dy="19.1">平均一个家庭一年在孩子身上的开销是1000</tspan><tspan x="412" dy="19.1">元，那么这个市场的容量就有1100亿元，而</tspan><tspan x="412" dy="19.1">有关调查表明，中等城市的新生儿每年消费在</tspan><tspan x="412" dy="19.1">6000到万元之间。</tspan></text></g>
<g id="n6_1b"><rect class="b" x="404" y="2788" width="312" height="110.4" rx="8"/><text class="t" x="412" y="2805"><tspan x="412">从怀孕开始，刚性消费支出就开始了：母亲的</tspan><tspan x="412" dy="19.1">保健品、防护服、孕妇装、护理用品等;婴儿</tspan><tspan x="412" dy="19.1">的奶瓶、童车、童装、专用洗涤用品、玩具等</tspan><tspan x="412" dy="19.1">;甚至胎教、家政服务、幼教服务，以及随之</tspan><tspan x="412" dy="19.1">而来家庭买房、换房要求、小孩入学等等。</tspan></text></g>
<g id="n6_1c"><rect class="b" x="404" y="3043" width="312" height="186.8" rx="8"/><text class="t" x="412" y="3060"><tspan x="412">由于缺乏育儿知识，同时又对育儿的要求较高</tspan><tspan x="412" dy="19.1">，准妈妈们从准备怀孕时起就迫切渴望帮助，</tspan><tspan x="412" dy="19.1">往往需要征询长辈、同事、朋友的经验，包括</tspan><tspan x="412" dy="19.1">如何调整生活和饮食结构，如何胎教，如何预</tspan><tspan x="412" dy="19.1">防小儿疾病，以及复杂的育儿技巧等。另外，</tspan><tspan x="412" dy="19.1">该群体具有较强交流分享需求。新妈妈一般都</tspan><tspan x="412" dy="19.1">有足够的时间，且乐于与人分享孕期、育儿经</tspan><tspan x="412" dy="19.1">验。因此，她们也迫切需要与同类人交流的平</tspan><tspan x="412" dy="19.1">台。所以应包括以下板块：</tspan></text></g>
<g id="n6_1c1"><rect class="b" x="63" y="2931" width="313" height="91.3" rx="8"/><text class="t" x="71" y="2948"><tspan x="71">1、育婴知识版块，内容主要为营养搭配，注</tspan><tspan x="71" dy="19.1">意事项，宝宝成长，宝宝教育等，可以下分新</tspan><tspan x="71" dy="19.1">生儿，0~1岁，1~3岁，3~6岁兰密，这样可</tspan><tspan x="71" dy="19.1">以方便查询。</tspan></text></g>
<g id="n6_1c2"><rect class="b" x="63" y="3054" width="313" height="72.2" rx="8"/><text class="t" x="71" y="3071"><tspan x="71">2、博客，必不可少的板块，新妈妈们一定渴</tspan><tspan x="71" dy="19.1">望将自己的经历记录下来，博客版面可采用暖</tspan><tspan x="71" dy="19.1">色调，符合妈妈们的心理。</tspan></text></g>
<g id="n6_1c3"><rect class="b" x="63" y="3158" width="313" height="72.2" rx="8"/><text class="t" x="71" y="3175"><tspan x="71">4、视频录像板块，现在家庭有DV的不在少</tspan><tspan x="71" dy="19.1">数，录像也比照片更生动，秀秀自己宝宝的录</tspan><tspan x="71" dy="19.1">像也是爸爸妈妈们的愿望。</tspan></text></g>
<g id="n6_1c4"><rect class="b" x="63" y="3262" width="313" height="72.2" rx="8"/><text class="t" x="71" y="3279"><tspan x="71">5、论坛，初为人父人母，肯定有许多话题来</tspan><tspan x="71" dy="19.1">探讨，论坛可以提供一个交流的平台，注意要</tspan><tspan x="71" dy="19.1">管理好，切勿成为一个广告平台。</tspan></text></g>
</g>
</svg>
